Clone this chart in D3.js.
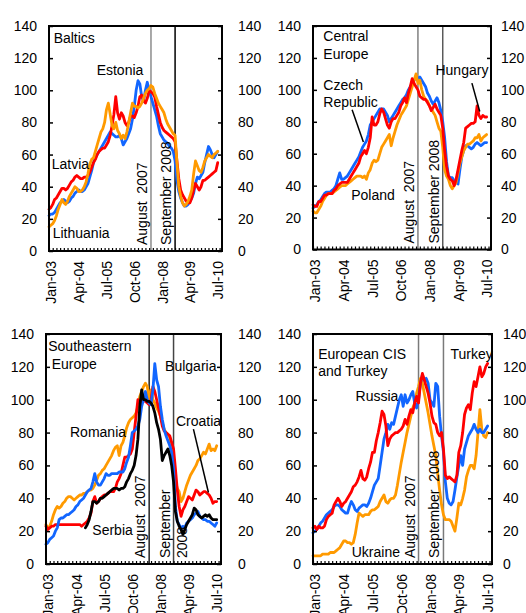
<!DOCTYPE html>
<html>
<head>
<meta charset="utf-8">
<script src="https://cdn.jsdelivr.net/npm/d3@7"></script>
<style>
  html, body { margin: 0; padding: 0; background: #fff; }
  svg { display: block; font-family: "Liberation Sans", Arial, sans-serif; }
  text { white-space: pre; }
</style>
</head>
<body>
<svg id="chart" width="526" height="613"></svg>
<script>
// Monthly index series, Jan-2003 = 100-based scale; one value per month from Jan-03 to Aug-10.
const firstMonth = "Jan-03";
const tickLabels = ["Jan-03", "Apr-04", "Jul-05", "Oct-06", "Jan-08", "Apr-09", "Jul-10"];
const yTicks = [0, 20, 40, 60, 80, 100, 120, 140];
const eventMonths = ["Aug-07", "Sep-08"];

// Baltics
const estonia = [
  22,23,23,24,26,28,30,31,32,31,30,31,
  33,34,36,37,38,37,37,38,40,42,46,50,
  55,58,60,62,64,66,68,70,72,74,73,72,
  71,71,72,70,66,68,70,73,76,82,90,100,
  106,104,96,93,100,105,100,96,92,88,84,78,
  73,71,69,68,67,65,64,62,56,44,37,33,
  30,28,28,29,31,33,36,42,46,45,47,49,
  55,60,65,63,60,58,60,62
];
const latvia = [
  26,27,29,32,33,35,37,39,39,38,39,41,
  43,44,46,47,46,45,45,46,46,47,49,52,
  55,57,60,62,63,64,64,66,68,72,78,85,
  96,86,82,86,84,80,78,80,84,84,83,86,
  90,96,97,94,92,95,100,99,98,96,90,85,
  80,77,75,74,73,72,71,70,68,56,45,38,
  35,33,31,30,30,33,38,42,40,38,40,44,
  44,45,46,47,48,49,50,55
];
const lithuania = [
  15,16,17,19,22,26,29,32,30,29,31,34,
  36,38,40,39,37,37,38,40,43,48,54,57,
  58,62,66,70,74,76,80,88,92,85,78,76,
  80,75,73,70,72,70,74,80,86,92,90,90,
  89,90,92,95,98,100,101,103,102,98,95,92,
  90,88,86,82,79,77,75,73,72,55,40,34,
  30,28,29,31,34,38,48,56,53,50,49,52,
  56,58,60,59,58,60,61,62
];

// Central Europe
const czechRepublic = [
  26,27,28,30,31,33,35,36,36,36,37,38,
  40,44,48,44,44,45,46,48,50,52,54,56,
  58,61,64,66,68,72,78,80,82,84,86,88,
  88,88,86,84,80,82,84,86,88,90,92,94,
  95,97,100,102,104,106,108,107,108,106,104,102,
  98,96,93,91,93,95,92,87,80,70,55,46,
  45,45,43,42,41,50,58,62,65,65,64,63,
  64,66,67,66,65,66,67,67
];
const hungary = [
  28,27,27,30,30,32,34,34,35,35,35,37,
  38,40,41,42,42,42,42,44,46,48,50,52,
  54,58,60,62,60,64,70,83,78,78,80,85,
  88,86,82,78,76,80,82,82,84,86,90,92,
  95,92,98,102,107,104,102,100,96,95,94,94,
  92,90,87,89,91,88,86,84,76,62,52,46,
  44,43,40,44,50,56,62,67,76,77,78,79,
  79,80,90,84,82,84,83,83
];
const poland = [
  24,23,23,25,27,30,32,34,35,35,35,36,
  37,38,39,40,40,40,41,42,43,44,45,46,
  46,46,45,46,44,48,50,54,56,55,56,60,
  64,66,68,70,72,65,70,74,78,81,84,86,
  88,90,94,98,102,106,110,104,106,100,96,94,
  93,90,88,86,84,80,76,74,64,50,46,44,
  40,38,40,42,48,54,58,62,64,66,66,67,
  68,70,70,72,68,70,71,72
];

// Southeastern Europe
const bulgaria = [
  12,13,15,16,17,20,22,27,28,28,29,30,
  30,31,32,33,35,36,38,39,40,42,44,45,
  46,50,55,50,48,48,50,52,55,54,54,55,
  55,55,55,56,56,56,58,62,65,72,80,81,
  82,84,88,96,100,105,100,98,97,106,122,112,
  108,96,88,82,78,75,72,68,58,35,26,24,
  22,23,22,25,26,27,28,30,31,32,29,28,
  27,27,26,26,25,24,23,25
];
const romania = [
  24,22,23,26,30,33,35,34,35,37,38,40,
  41,41,40,39,40,41,42,42,43,43,44,45,
  45,46,48,51,54,55,57,58,60,62,64,66,
  69,71,72,66,72,74,78,83,86,88,89,90,
  92,96,102,105,108,110,108,100,106,100,98,95,
  93,90,86,82,80,79,77,70,62,50,46,44,
  38,40,44,48,51,54,56,58,60,63,64,66,
  68,67,70,73,69,70,69,72
];
const croatia = [
  23,21,22,23,23,24,24,24,24,24,24,24,
  24,24,24,24,24,24,24,23,24,25,26,28,
  31,38,41,37,38,40,41,42,42,43,44,44,
  44,46,50,52,55,60,65,65,66,67,70,80,
  90,100,98,99,100,99,98,97,100,108,105,100,
  95,90,84,81,80,79,78,74,70,58,45,35,
  29,33,35,38,41,40,39,42,45,44,42,43,
  44,44,43,42,40,37,38,38
];
const serbia = [
  null,null,null,null,null,null,null,null,null,null,null,null,
  null,null,null,null,null,null,null,null,null,22,24,27,
  32,38,38,37,38,40,40,41,42,43,44,45,
  46,46,46,45,46,46,47,50,52,55,57,60,
  66,76,96,106,100,100,99,99,98,96,92,86,
  82,76,63,66,68,70,66,60,50,32,26,23,
  21,18,21,24,26,28,30,34,33,30,29,28,
  29,30,29,30,28,27,27,27
];

// European CIS and Turkey
const russia = [
  19,20,21,23,25,26,28,30,31,32,33,35,
  36,36,35,33,32,31,31,35,38,36,33,32,
  34,35,36,36,35,37,40,44,48,50,52,60,
  68,76,80,85,82,86,85,90,95,100,103,96,
  103,98,100,103,105,98,95,100,110,115,112,113,
  110,100,98,96,110,108,90,78,68,50,40,37,
  36,38,45,53,60,66,60,70,74,78,80,82,
  85,82,80,82,80,80,82,84
];
const turkey = [
  22,23,21,23,22,22,23,27,29,30,31,36,
  38,40,38,35,37,38,40,42,44,47,48,50,
  53,57,52,51,53,58,62,68,68,75,80,86,
  93,91,84,72,76,78,79,80,80,81,82,84,
  88,85,90,94,92,98,102,98,110,116,112,108,
  104,98,90,86,85,80,78,80,70,54,52,53,
  52,51,50,54,68,72,80,91,95,97,94,104,
  111,108,114,120,114,116,120,122
];
const ukraine = [
  5,5,5,5,5,6,6,6,6,7,7,7,
  8,9,10,12,14,14,13,13,12,13,18,25,
  31,30,29,30,30,30,32,33,33,34,35,38,
  40,42,38,37,39,40,40,42,48,55,62,68,
  74,80,85,90,95,98,104,108,113,110,104,98,
  92,85,78,72,66,55,45,36,30,27,27,27,
  26,23,20,28,37,36,40,45,53,57,60,60,
  58,66,80,94,82,78,77,80
];

const BLUE = "#1266ff", RED = "#ff0000", ORANGE = "#ff9a00", BLACK = "#000000";

const parseMonth = d3.timeParse("%b-%y");
const origin = parseMonth(firstMonth);
const monthIndex = s => d3.timeMonth.count(origin, parseMonth(s));

const panels = [
  {
    x0: 49, x1: 222, y0: 26, y1: 251, rightGap: 16,
    series: [
      { values: estonia, color: BLUE },
      { values: latvia, color: RED },
      { values: lithuania, color: ORANGE }
    ],
    eventColors: ["#8c8c8c", "#000"],
    eventText: [["August  2007"], ["September 2008"]],
    labels: [
      { text: "Baltics", m: 2.5, v: 129.5 },
      { text: "Estonia", m: 25.7, v: 109.5 },
      { text: "Latvia", m: 1.5, v: 51 },
      { text: "Lithuania", m: 2, v: 8 }
    ],
    leaders: []
  },
  {
    x0: 313, x1: 491, y0: 26, y1: 249.5, rightGap: 10,
    series: [
      { values: czechRepublic, color: BLUE },
      { values: poland, color: ORANGE },
      { values: hungary, color: RED }
    ],
    eventColors: ["#808080", "#5a5a5a"],
    eventText: [["August  2007"], ["September 2008"]],
    labels: [
      { text: "Central", m: 5.4, v: 130.3 },
      { text: "Europe", m: 5.4, v: 119.2 },
      { text: "Czech", m: 5.4, v: 100 },
      { text: "Republic", m: 5.4, v: 89.5 },
      { text: "Poland", m: 20, v: 31.3 },
      { text: "Hungary", m: 64.2, v: 109.4 }
    ],
    leaders: [
      { m1: 20.5, v1: 87.5, m2: 26.4, v2: 67.4 },
      { m1: 83.3, v1: 104.2, m2: 87.4, v2: 86.4 }
    ]
  },
  {
    x0: 46, x1: 221, y0: 334, y1: 564, rightGap: 17,
    series: [
      { values: romania, color: ORANGE },
      { values: croatia, color: RED },
      { values: bulgaria, color: BLUE },
      { values: serbia, color: BLACK }
    ],
    eventColors: ["#222", "#444"],
    eventText: [["August  2007"], ["September", "2008"]],
    labels: [
      { text: "Southeastern", m: 1.2, v: 129.9 },
      { text: "Europe", m: 3, v: 118.7 },
      { text: "Romania", m: 12.8, v: 77.6 },
      { text: "Bulgaria", m: 63.5, v: 117.7 },
      { text: "Croatia", m: 69.3, v: 84.1 },
      { text: "Serbia", m: 24.7, v: 17.7 }
    ],
    leaders: [
      { m1: 78.6, v1: 82.1, m2: 86.6, v2: 43.5 }
    ]
  },
  {
    x0: 313, x1: 492, y0: 334, y1: 564, rightGap: 11,
    series: [
      { values: ukraine, color: ORANGE },
      { values: russia, color: BLUE },
      { values: turkey, color: RED }
    ],
    eventColors: ["#7a7a7a", "#7a7a7a"],
    eventText: [["August  2007"], ["September  2008"]],
    labels: [
      { text: "European CIS", m: 2.7, v: 124.8 },
      { text: "and Turkey", m: 2.7, v: 114.6 },
      { text: "Turkey", m: 71.7, v: 125 },
      { text: "Russia", m: 22.2, v: 99 },
      { text: "Ukraine", m: 20.2, v: 4.5 }
    ],
    leaders: []
  }
];

const svg = d3.select("#chart");
const FONT = 14;
const monthSpan = 93.3;
const events = eventMonths.map(monthIndex);
const tickMonths = tickLabels.map(monthIndex);

panels.forEach(p => {
  const x = d3.scaleLinear().domain([0, monthSpan]).range([p.x0, p.x1]);
  const y = d3.scaleLinear().domain([0, 140]).range([p.y1, p.y0]);
  const g = svg.append("g");

  // event markers (drawn under the series)
  events.forEach((m, i) => {
    const ex = x(m);
    g.append("line")
      .attr("x1", ex).attr("x2", ex).attr("y1", p.y0).attr("y2", p.y1)
      .attr("stroke", p.eventColors[i]).attr("stroke-width", 1.5);
  });

  // series
  const line = d3.line()
    .defined(d => d != null)
    .x((d, i) => x(i))
    .y(d => y(d));
  p.series.forEach(s => {
    g.append("path")
      .datum(s.values)
      .attr("d", line)
      .attr("fill", "none")
      .attr("stroke", s.color)
      .attr("stroke-width", 2.8)
      .attr("stroke-linejoin", "round")
      .attr("stroke-linecap", "round");
  });

  // event labels, rotated to read upward
  events.forEach((m, i) => {
    const ex = x(m);
    const parts = p.eventText[i];
    parts.forEach((t, j) => {
      const bx = j === 0 ? ex - 4 : ex + 13;
      g.append("text")
        .attr("transform", `translate(${bx},${p.y1 - 6}) rotate(-90)`)
        .attr("font-size", FONT)
        .attr("fill", "#000")
        .text(t);
    });
  });

  // left and right value axes with inward ticks
  const leftAxis = d3.axisLeft(y).tickValues(yTicks).tickSize(-4).tickPadding(12);
  const rightAxis = d3.axisRight(y).tickValues(yTicks).tickSize(-4).tickPadding(p.rightGap);
  const la = g.append("g").attr("transform", `translate(${p.x0},0)`).call(leftAxis);
  const ra = g.append("g").attr("transform", `translate(${p.x1},0)`).call(rightAxis);
  [la, ra].forEach(a => {
    a.select(".domain").remove();
    a.selectAll("line").attr("stroke", "#000").attr("stroke-width", 1.5);
    a.selectAll("text").attr("font-size", FONT).attr("font-family", null).attr("fill", "#000");
  });

  // bottom axis: small inward ticks every two months, rotated date labels
  const minor = d3.range(0, monthSpan, 2);
  const ba = g.append("g").attr("transform", `translate(0,${p.y1})`)
    .call(d3.axisBottom(x).tickValues(minor).tickSize(-3).tickFormat(""));
  ba.select(".domain").remove();
  ba.selectAll("line").attr("stroke", "#000").attr("stroke-width", 1.2);

  tickMonths.forEach((m, i) => {
    g.append("text")
      .attr("transform", `translate(${x(m)},${p.y1 + 10}) rotate(-90)`)
      .attr("text-anchor", "end")
      .attr("dy", "0.53em")
      .attr("font-size", FONT)
      .attr("fill", "#000")
      .text(tickLabels[i]);
  });

  // frame
  g.append("rect")
    .attr("x", p.x0).attr("y", p.y0)
    .attr("width", p.x1 - p.x0).attr("height", p.y1 - p.y0)
    .attr("fill", "none").attr("stroke", "#000").attr("stroke-width", 2);

  // series names and panel titles
  p.labels.forEach(l => {
    g.append("text")
      .attr("x", x(l.m)).attr("y", y(l.v))
      .attr("font-size", FONT)
      .attr("fill", "#000")
      .text(l.text);
  });
  p.leaders.forEach(l => {
    g.append("line")
      .attr("x1", x(l.m1)).attr("y1", y(l.v1))
      .attr("x2", x(l.m2)).attr("y2", y(l.v2))
      .attr("stroke", "#000").attr("stroke-width", 1.5);
  });
});
</script>
</body>
</html>
